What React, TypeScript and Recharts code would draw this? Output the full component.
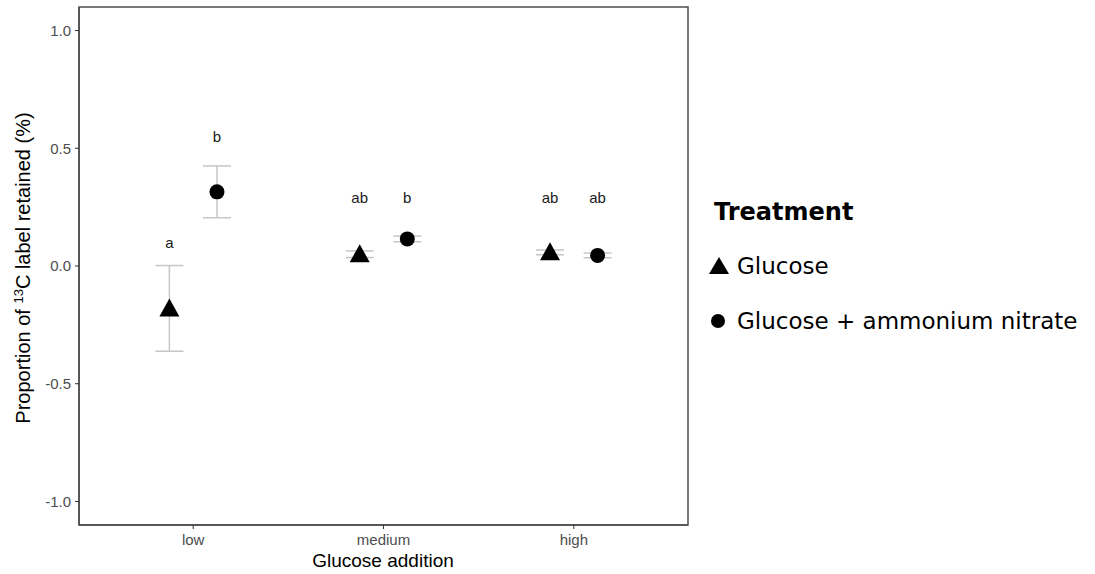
import React from 'react';
import {
  ScatterChart,
  Scatter,
  XAxis,
  YAxis,
  ErrorBar,
  ReferenceArea,
} from 'recharts';

const categories = ['low', 'medium', 'high'];
const glucoseMean = [-0.18, 0.05, 0.058];
const glucoseSe = [0.182, 0.014, 0.01];
const nitrateMean = [0.315, 0.115, 0.045];
const nitrateSe = [0.11, 0.012, 0.01];
const glucoseLetters = ['a', 'ab', 'ab'];
const nitrateLetters = ['b', 'b', 'ab'];
const glucoseLetterY = [0.1, 0.29, 0.29];
const nitrateLetterY = [0.55, 0.29, 0.29];
const yTicks = [-1, -0.5, 0, 0.5, 1];

const dodge = 0.125;

const glucoseData = categories.map((c, i) => ({
  x: i + 1 - dodge, y: glucoseMean[i], err: glucoseSe[i], letter: glucoseLetters[i],
}));
const nitrateData = categories.map((c, i) => ({
  x: i + 1 + dodge, y: nitrateMean[i], err: nitrateSe[i], letter: nitrateLetters[i],
}));
const letterData = [
  ...categories.map((c, i) => ({ x: i + 1 - dodge, y: glucoseLetterY[i], letter: glucoseLetters[i] })),
  ...categories.map((c, i) => ({ x: i + 1 + dodge, y: nitrateLetterY[i], letter: nitrateLetters[i] })),
];

const font = "'Liberation Sans', Arial, sans-serif";
const legendFont = "'DejaVu Sans', Verdana, sans-serif";

const TriangleShape = (props: any) => {
  const { cx, cy } = props;
  return <polygon points={`${cx},${cy - 10} ${cx - 10},${cy + 8} ${cx + 10},${cy + 8}`} fill="#000" />;
};

const CircleShape = (props: any) => {
  const { cx, cy } = props;
  return <circle cx={cx} cy={cy} r={7.5} fill="#000" />;
};

const NoShape = () => <g />;

const LetterShape = (props: any) => {
  const { cx, cy, payload } = props;
  return (
    <text x={cx} y={cy} textAnchor="middle" dominantBaseline="central"
      fontSize={15} fontFamily={font} fill="#1a1a1a">
      {payload.letter}
    </text>
  );
};

export default function App() {
  return (
    <div style={{ position: 'absolute', left: 0, top: 0, width: 1095, height: 574, background: '#fff' }}>
      <ScatterChart width={700} height={574} margin={{ top: 7, right: 12, bottom: 0, left: 30 }}>
        <XAxis
          type="number"
          dataKey="x"
          domain={[0.4, 3.6]}
          ticks={[1, 2, 3]}
          tickFormatter={(v: number) => categories[v - 1]}
          height={49}
          tickSize={4}
          tickMargin={5}
          axisLine={{ stroke: '#4d4d4d', strokeWidth: 1.5 }}
          tickLine={{ stroke: '#333' }}
          tick={{ fill: '#4d4d4d', fontSize: 15, fontFamily: font }}
          allowDataOverflow
        />
        <YAxis
          type="number"
          dataKey="y"
          domain={[-1.1, 1.1]}
          ticks={yTicks}
          tickFormatter={(v: number) => v.toFixed(1)}
          width={49}
          tickSize={4}
          tickMargin={4}
          axisLine={{ stroke: '#4d4d4d', strokeWidth: 1.5 }}
          tickLine={{ stroke: '#333' }}
          tick={{ fill: '#4d4d4d', fontSize: 15, fontFamily: font }}
          allowDataOverflow
        />
        <ReferenceArea x1={0.4} x2={3.6} y1={-1.1} y2={1.1} fill="none" stroke="#4d4d4d" strokeWidth={1.5} ifOverflow="visible" />
        <Scatter data={glucoseData} shape={NoShape} isAnimationActive={false}>
          <ErrorBar dataKey="err" direction="y" width={14} stroke="#c6c6c6" strokeWidth={1.5} />
        </Scatter>
        <Scatter data={nitrateData} shape={NoShape} isAnimationActive={false}>
          <ErrorBar dataKey="err" direction="y" width={14} stroke="#c6c6c6" strokeWidth={1.5} />
        </Scatter>
        <Scatter data={glucoseData} shape={TriangleShape} isAnimationActive={false} />
        <Scatter data={nitrateData} shape={CircleShape} isAnimationActive={false} />
        <Scatter data={letterData} shape={LetterShape} isAnimationActive={false} />
      </ScatterChart>

      <div style={{ position: 'absolute', left: 383, top: 561, transform: 'translate(-50%, -50%)', fontFamily: font, fontSize: 19, color: '#000', whiteSpace: 'nowrap' }}>
        Glucose addition
      </div>
      <div style={{ position: 'absolute', left: 23, top: 268, transform: 'translate(-50%, -50%) rotate(-90deg)', fontFamily: font, fontSize: 20, color: '#000', whiteSpace: 'nowrap' }}>
        Proportion of <sup style={{ fontSize: 13 }}>13</sup>C label retained (%)
      </div>

      <div style={{ position: 'absolute', left: 714, top: 212, transform: 'translateY(-50%)', fontFamily: legendFont, fontWeight: 'bold', fontSize: 24, color: '#000' }}>
        Treatment
      </div>
      <svg style={{ position: 'absolute', left: 706, top: 254 }} width={26} height={24}>
        <polygon points="13,3 3,20 23,20" fill="#000" />
      </svg>
      <div style={{ position: 'absolute', left: 737, top: 266, transform: 'translateY(-50%)', fontFamily: legendFont, fontSize: 23, color: '#000', whiteSpace: 'nowrap' }}>
        Glucose
      </div>
      <svg style={{ position: 'absolute', left: 708, top: 311 }} width={20} height={20}>
        <circle cx={10} cy={10} r={7} fill="#000" />
      </svg>
      <div style={{ position: 'absolute', left: 737, top: 321, transform: 'translateY(-50%)', fontFamily: legendFont, fontSize: 23, color: '#000', whiteSpace: 'nowrap' }}>
        Glucose + ammonium nitrate
      </div>
    </div>
  );
}
